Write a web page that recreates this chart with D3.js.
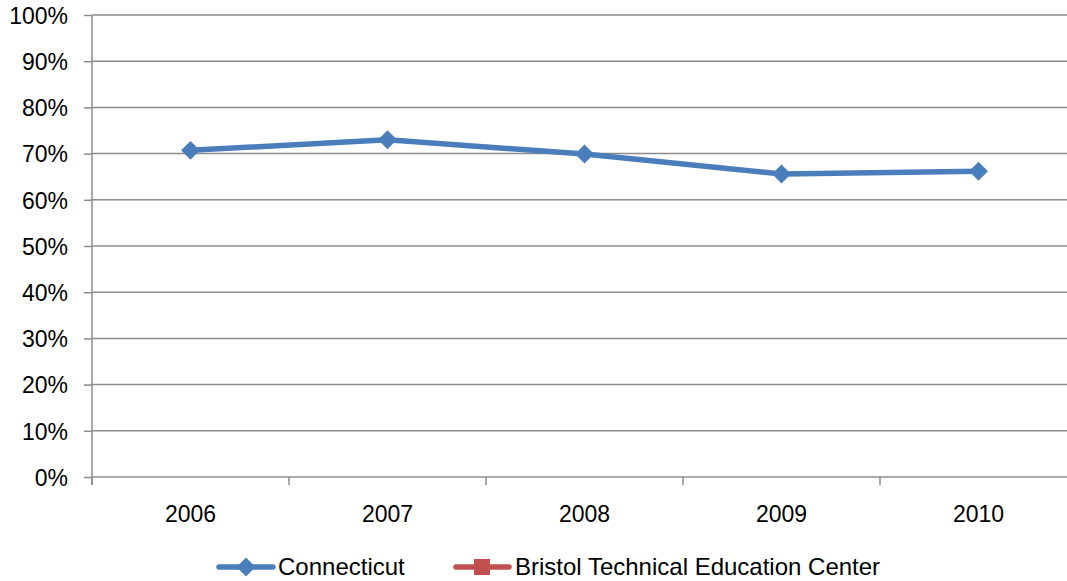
<!DOCTYPE html>
<html>
<head>
<meta charset="utf-8">
<script src="https://cdn.jsdelivr.net/npm/d3@7"></script>
<style>
  body { margin: 0; background: #fff; }
  text { font-family: "Liberation Sans", Arial, sans-serif; fill: #000; }
</style>
</head>
<body>
<div id="chart"></div>
<script>
// chart data
var years = ["2006", "2007", "2008", "2009", "2010"];
var connecticut = [0.707, 0.730, 0.699, 0.656, 0.662];
var bristol = [null, null, null, null, null];
var yTicks = [0, 0.1, 0.2, 0.3, 0.4, 0.5, 0.6, 0.7, 0.8, 0.9, 1.0];
var seriesNames = ["Connecticut", "Bristol Technical Education Center"];

var svgWidth = 1067;
var svgHeight = 581;

var margin = { top: 15, right: -10, bottom: 104, left: 92 };
var width = svgWidth - margin.left - margin.right;
var height = svgHeight - margin.top - margin.bottom;
var fontSize = "23px";

var svg = d3.select("#chart")
    .append("svg")
    .attr("width", svgWidth)
    .attr("height", svgHeight);

var chartGroup = svg.append("g")
    .attr("transform", `translate(${margin.left}, ${margin.top})`);

var xBand = d3.scaleBand()
    .domain(years)
    .range([0, width]);

var yLinearScale = d3.scaleLinear()
    .domain([0, 1])
    .range([height, 0]);

// gridlines
chartGroup.selectAll(".grid")
    .data(yTicks.slice(1))
    .enter()
    .append("line")
    .attr("x1", 0)
    .attr("x2", width)
    .attr("y1", d => yLinearScale(d))
    .attr("y2", d => yLinearScale(d))
    .attr("stroke", "#8c8c8c")
    .attr("stroke-width", 1.5);

// y axis
var leftAxis = d3.axisLeft(yLinearScale)
    .tickValues(yTicks)
    .tickFormat(d3.format(".0%"))
    .tickSize(8)
    .tickPadding(16);

var yAxis = chartGroup.append("g").call(leftAxis);
yAxis.select(".domain").attr("stroke", "#8c8c8c").attr("stroke-width", 1.5)
    .attr("d", `M0,${height + 8}V0`);
yAxis.selectAll(".tick line").attr("stroke", "#8c8c8c").attr("stroke-width", 1.5);
yAxis.selectAll("text").style("font-size", fontSize).attr("dy", "0.36em");

// x axis
var xAxis = chartGroup.append("g")
    .attr("transform", `translate(0, ${height})`);
xAxis.append("line")
    .attr("x1", 0).attr("x2", width)
    .attr("stroke", "#8c8c8c").attr("stroke-width", 1.5);
xAxis.selectAll(".xtick")
    .data(years)
    .enter()
    .append("line")
    .attr("x1", d => xBand(d))
    .attr("x2", d => xBand(d))
    .attr("y1", 0).attr("y2", 8)
    .attr("stroke", "#8c8c8c").attr("stroke-width", 1.5);
xAxis.selectAll(".xlabel")
    .data(years)
    .enter()
    .append("text")
    .attr("x", d => xBand(d) + xBand.bandwidth() / 2)
    .attr("y", 45)
    .attr("text-anchor", "middle")
    .style("font-size", fontSize)
    .text(d => d);

var xPos = d => xBand(d) + xBand.bandwidth() / 2;

// line
var line = d3.line()
    .defined(d => d.v !== null)
    .x(d => xPos(d.year))
    .y(d => yLinearScale(d.v));

var ctData = years.map((y, i) => ({ year: y, v: connecticut[i] }));
var brData = years.map((y, i) => ({ year: y, v: bristol[i] }));

chartGroup.append("path")
    .datum(brData)
    .attr("fill", "none")
    .attr("stroke", "#c0504d")
    .attr("stroke-width", 5.5)
    .attr("d", line);

chartGroup.append("path")
    .datum(ctData)
    .attr("fill", "none")
    .attr("stroke", "#4a7ebb")
    .attr("stroke-width", 5.5)
    .attr("stroke-linejoin", "round")
    .attr("d", line);

chartGroup.selectAll(".ctpt")
    .data(ctData)
    .enter()
    .append("path")
    .attr("transform", d => `translate(${xPos(d.year)}, ${yLinearScale(d.v)}) rotate(45)`)
    .attr("d", d3.symbol().type(d3.symbolSquare).size(180))
    .attr("fill", "#4a7ebb");

// legend
var legend = svg.append("g").attr("transform", "translate(0, 567)");

legend.append("line")
    .attr("x1", 219).attr("x2", 273)
    .attr("stroke", "#4a7ebb").attr("stroke-width", 5.5)
    .attr("stroke-linecap", "round");
legend.append("path")
    .attr("transform", "translate(246, 0) rotate(45)")
    .attr("d", d3.symbol().type(d3.symbolSquare).size(180))
    .attr("fill", "#4a7ebb");
legend.append("text")
    .attr("x", 278).attr("y", 8)
    .style("font-size", "24px")
    .text(seriesNames[0]);

legend.append("line")
    .attr("x1", 456).attr("x2", 509)
    .attr("stroke", "#c0504d").attr("stroke-width", 5.5)
    .attr("stroke-linecap", "round");
legend.append("rect")
    .attr("x", 474).attr("y", -8)
    .attr("width", 16).attr("height", 16)
    .attr("fill", "#c0504d");
legend.append("text")
    .attr("x", 515).attr("y", 8)
    .style("font-size", "24px")
    .text(seriesNames[1]);
</script>
</body>
</html>
